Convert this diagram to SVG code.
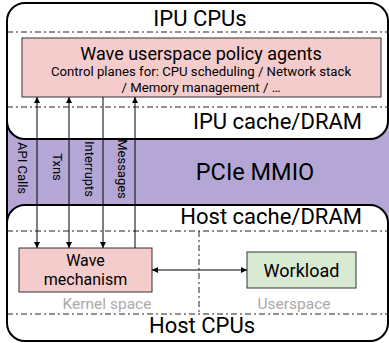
<svg xmlns="http://www.w3.org/2000/svg" width="389" height="343" viewBox="0 0 389 343">
<style>
text{font-family:Roboto,"Liberation Sans",sans-serif;fill:#000}
.frame{fill:#fff;stroke:#000;stroke-width:2}
.dash{stroke:#222;stroke-width:1;stroke-dasharray:6 3 2 3;fill:none}
.pink{fill:#f4cccc;stroke:#333;stroke-width:1}
.green{fill:#d9ead3;stroke:#333;stroke-width:1}
.conn{stroke:#000;stroke-width:1;fill:none}
.lbl{font-size:13px}
.gray{fill:#aaa;font-size:15.5px}
.big{font-size:22px}
</style>
<defs>
<marker id="ah" viewBox="0 0 8 8" refX="8" refY="4" markerWidth="6" markerHeight="7" markerUnits="userSpaceOnUse" orient="auto-start-reverse">
<path d="M0,0 L8,4 L0,8 z" fill="#000"/>
</marker>
</defs>
<g id="pcie">
<rect x="7" y="118" width="382" height="110" fill="#b4a7d6"/>
<text x="255" y="180" text-anchor="middle" font-size="23.5">PCIe MMIO</text>
</g>
<g id="ipu">
<path class="frame" d="M7,21 A18,18 0 0 1 25,3 H370 A18,18 0 0 1 388,21 V121 A18,18 0 0 1 370,139 H25 A18,18 0 0 1 7,121 Z"/>
<line class="dash" x1="7" y1="32" x2="389" y2="32"/>
<line class="dash" x1="7" y1="107" x2="389" y2="107"/>
<text class="big" x="200" y="26" text-anchor="middle">IPU CPUs</text>
<text class="big" x="362" y="129" text-anchor="end">IPU cache/DRAM</text>
</g>
<g id="host">
<path class="frame" d="M7,223 A18,18 0 0 1 25,205 H370 A18,18 0 0 1 388,223 V323 A18,18 0 0 1 370,341 H25 A18,18 0 0 1 7,323 Z"/>
<line class="dash" x1="7" y1="231" x2="389" y2="231"/>
<line class="dash" x1="7" y1="314" x2="389" y2="314"/>
<line class="dash" x1="199" y1="231" x2="199" y2="314"/>
<text class="big" x="362" y="224" text-anchor="end">Host cache/DRAM</text>
<text class="big" x="202" y="333" text-anchor="middle">Host CPUs</text>
<text class="gray" x="107" y="309" text-anchor="middle">Kernel space</text>
<text class="gray" x="294" y="309" text-anchor="middle">Userspace</text>
</g>
<line x1="7" y1="118" x2="7" y2="226" stroke="#000" stroke-width="2"/>
<g id="agents">
<rect class="pink" x="22" y="38" width="359" height="59"/>
<text x="201" y="59.5" text-anchor="middle" font-size="18">Wave userspace policy agents</text>
<text x="201" y="76" text-anchor="middle" font-size="13.2">Control planes for: CPU scheduling / Network stack</text>
<text x="201" y="91.5" text-anchor="middle" font-size="13.2">/ Memory management / …</text>
</g>
<g id="wave">
<rect class="pink" x="19" y="248" width="133" height="44"/>
<text x="85.5" y="266" text-anchor="middle" font-size="16">Wave</text>
<text x="85.5" y="285" text-anchor="middle" font-size="16">mechanism</text>
</g>
<g id="workload">
<rect class="green" x="247" y="252" width="109" height="36"/>
<text x="301.5" y="277" text-anchor="middle" font-size="18">Workload</text>
</g>
<g id="connectors">
<line class="conn" x1="37" y1="97" x2="37" y2="248" marker-start="url(#ah)" marker-end="url(#ah)"/>
<line class="conn" x1="69" y1="97" x2="69" y2="248" marker-start="url(#ah)" marker-end="url(#ah)"/>
<line class="conn" x1="103" y1="97" x2="103" y2="248" marker-end="url(#ah)"/>
<line class="conn" x1="135" y1="97" x2="135" y2="248" marker-start="url(#ah)"/>
<line class="conn" x1="152" y1="270" x2="247" y2="270" marker-start="url(#ah)" marker-end="url(#ah)"/>
<text class="lbl" transform="translate(22,168) rotate(90)" text-anchor="middle" dominant-baseline="central">API Calls</text>
<text class="lbl" transform="translate(57,167) rotate(90)" text-anchor="middle" dominant-baseline="central">Txns</text>
<text class="lbl" transform="translate(89,169) rotate(90)" text-anchor="middle" dominant-baseline="central">Interrupts</text>
<text class="lbl" transform="translate(122,169) rotate(90)" text-anchor="middle" dominant-baseline="central">Messages</text>
</g>
</svg>
